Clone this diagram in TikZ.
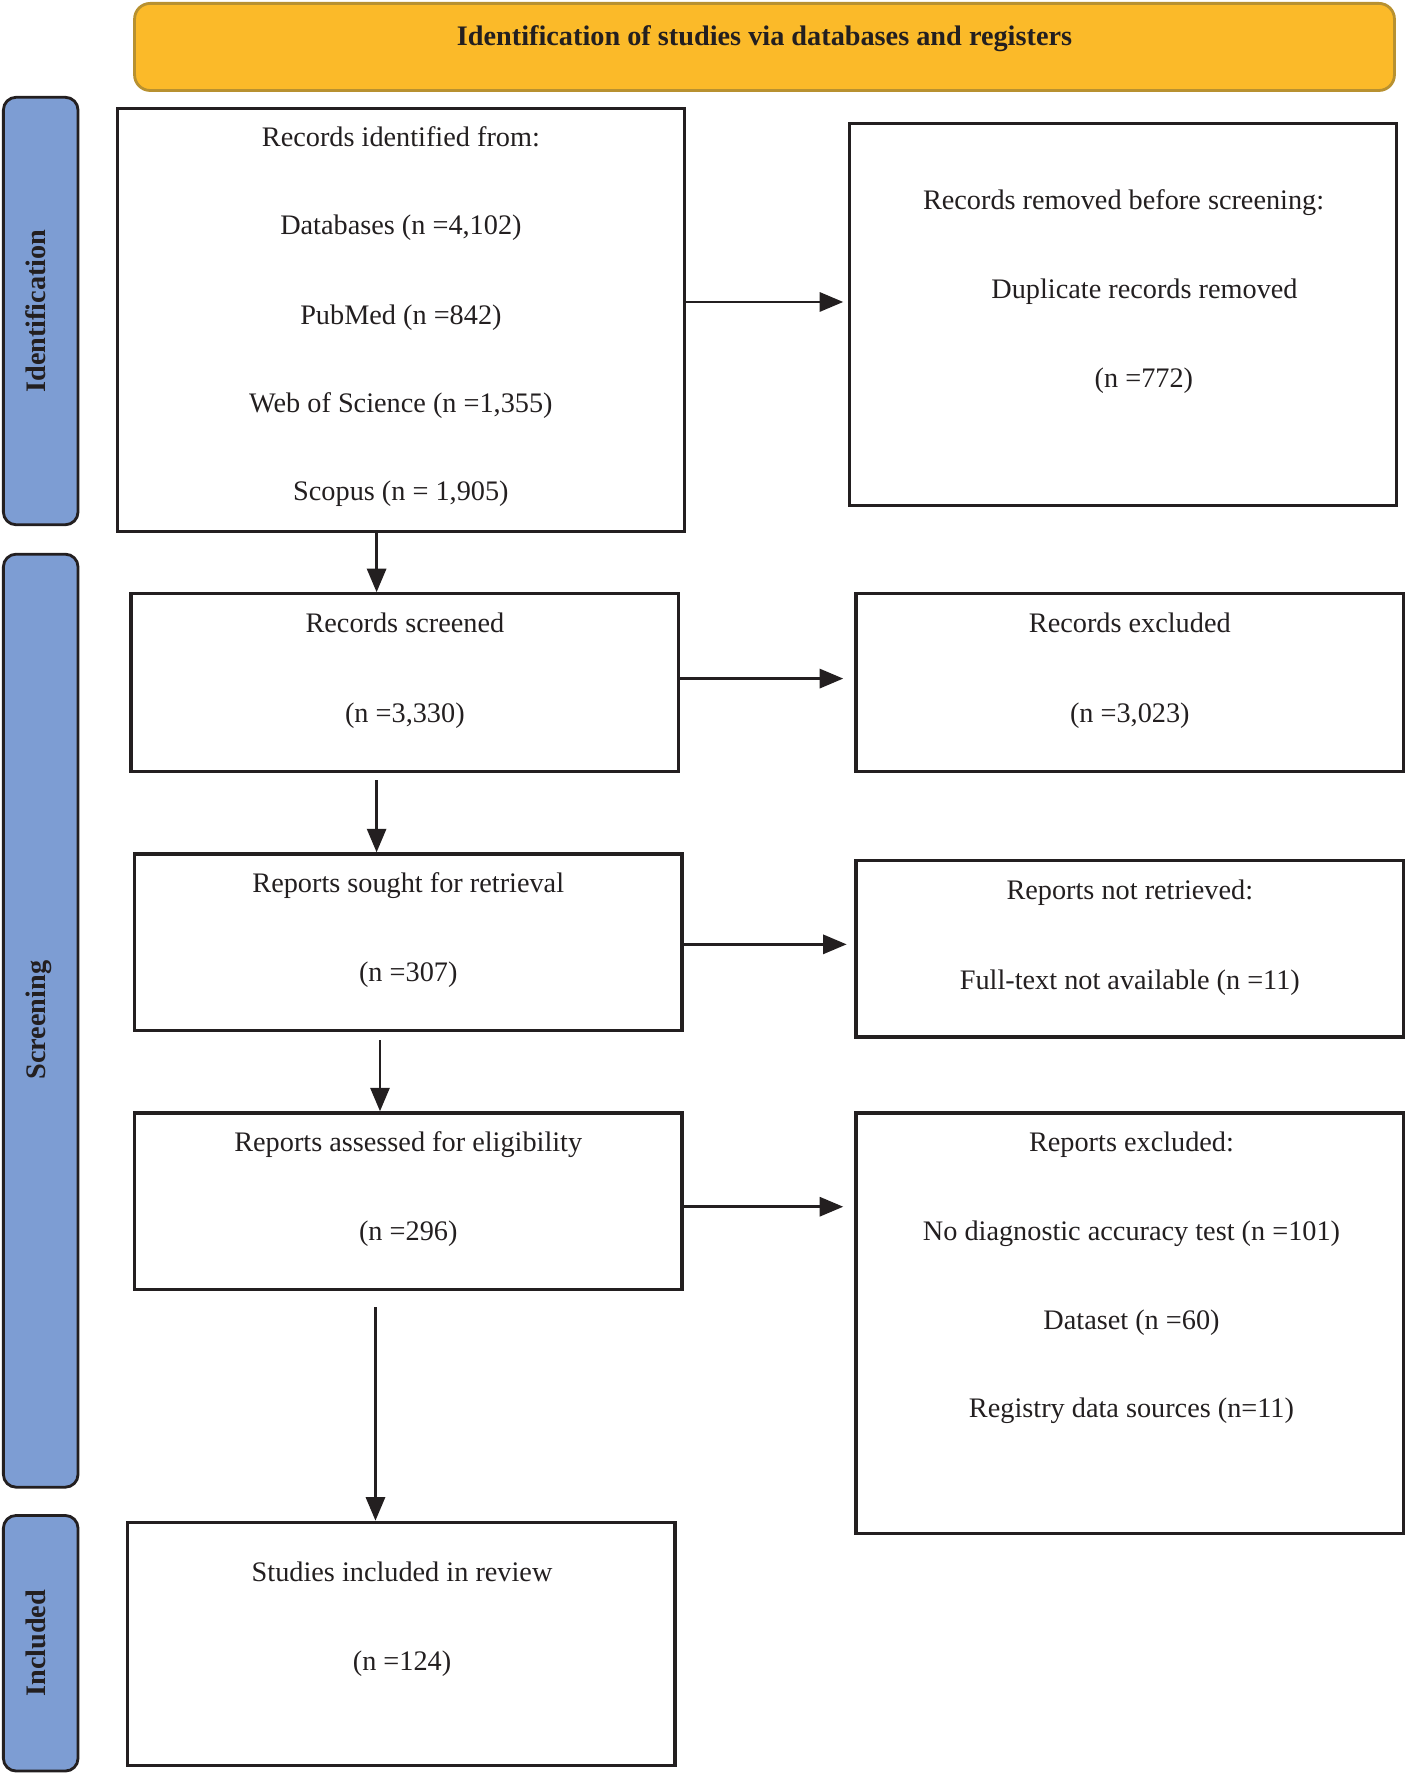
\documentclass[tikz,border=0pt]{standalone}
\usepackage{fontspec}
\setmainfont{Liberation Serif}
\usetikzlibrary{arrows}
\usetikzlibrary{fit}

\definecolor{bannerfill}{RGB}{251,186,41}
\definecolor{bannerline}{RGB}{184,145,48}
\definecolor{phasefill}{RGB}{125,157,211}
\definecolor{inkline}{RGB}{35,31,32}

\tikzset{
  flowbox/.style={draw=inkline, line width=1.2pt, fill=white, inner sep=0pt},
  phasebar/.style={draw=inkline, line width=1pt, fill=phasefill, rounded corners=4.5pt, inner sep=0pt},
  banner/.style={draw=bannerline, line width=1pt, fill=bannerfill, rounded corners=5.5pt, inner sep=0pt},
  entry/.style={anchor=base, inner sep=0pt, text=inkline, font=\fontsize{10}{12}\selectfont},
  phaselabel/.style={anchor=base, rotate=90, inner sep=0pt, text=inkline, font=\fontsize{10}{12}\selectfont\bfseries},
  flowarrow/.style={->, draw=inkline, line width=0.9pt}
}

\begin{document}
\begin{tikzpicture}[line cap=butt,line join=miter,>=triangle 45,x=0.4pt,y=-0.4pt]
\useasboundingbox (0,0) rectangle (1245,1569.5);

% banner
\node[banner, fit={(119,3) (1233,80)}] (banner) {};
\node[entry, font=\fontsize{10}{12}\selectfont\bfseries] (bannertext) at (676,40.5) {Identification of studies via databases and registers};

% phase bars
\node[phasebar, fit={(3,86) (69,464)}] (phaseid) {};
\node[phasebar, fit={(3,490) (69,1315)}] (phasescr) {};
\node[phasebar, fit={(3,1340) (69,1566)}] (phaseinc) {};
\node[phaselabel] (phaseidtext) at (40,275) {Identification};
\node[phaselabel] (phasescrtext) at (40,902) {Screening};
\node[phaselabel] (phaseinctext) at (40,1453) {Included};

% left column
\node[flowbox, fit={(104,96) (605,470)}] (ident) {};
\node[entry] (ident1) at (354.5,129.5) {Records identified from:};
\node[entry] (ident2) at (354.5,207.5) {Databases (n =4,102)};
\node[entry] (ident3) at (354.5,286.5) {PubMed (n =842)};
\node[entry] (ident4) at (354.5,364.5) {Web of Science (n =1,355)};
\node[entry] (ident5) at (354.5,442.5) {Scopus (n = 1,905)};

\node[flowbox, fit={(116,525) (600,682)}] (screen) {};
\node[entry] (screen1) at (358,559.5) {Records screened};
\node[entry] (screen2) at (358,638.5) {(n =3,330)};

\node[flowbox, fit={(119,755) (603,911)}] (sought) {};
\node[entry] (sought1) at (361,789.5) {Reports sought for retrieval};
\node[entry] (sought2) at (361,867.5) {(n =307)};

\node[flowbox, fit={(119,984) (603,1140)}] (assess) {};
\node[entry] (assess1) at (361,1018.5) {Reports assessed for eligibility};
\node[entry] (assess2) at (361,1096.5) {(n =296)};

\node[flowbox, fit={(113,1346) (597,1561)}] (incl) {};
\node[entry] (incl1) at (355.5,1398.5) {Studies included in review};
\node[entry] (incl2) at (355.5,1477.5) {(n =124)};

% right column
\node[flowbox, fit={(751,109) (1235,447)}] (removed) {};
\node[entry] (removed1) at (993.5,185.5) {Records removed before screening:};
\node[entry] (removed2) at (1012,263.5) {Duplicate records removed};
\node[entry] (removed3) at (1011.5,342.5) {(n =772)};

\node[flowbox, fit={(757,525) (1241,682)}] (excl) {};
\node[entry] (excl1) at (999,559.5) {Records excluded};
\node[entry] (excl2) at (999,638.5) {(n =3,023)};

\node[flowbox, fit={(757,761) (1241,917)}] (notret) {};
\node[entry] (notret1) at (999,795.5) {Reports not retrieved:};
\node[entry] (notret2) at (999,874.5) {Full-text not available (n =11)};

\node[flowbox, fit={(757,984) (1241,1356)}] (repexcl) {};
\node[entry] (repexcl1) at (1000.5,1018.5) {Reports excluded:};
\node[entry] (repexcl2) at (1000.5,1096.5) {No diagnostic accuracy test (n =101)};
\node[entry] (repexcl3) at (1000.5,1175.5) {Dataset (n =60)};
\node[entry] (repexcl4) at (1000.5,1253.5) {Registry data sources (n=11)};

% arrow points
\coordinate (down1) at (333,0);
\coordinate (down2) at (333,690);
\coordinate (down3) at (336,920);
\coordinate (down4) at (332,1156);
\coordinate (side1) at (0,267);
\coordinate (side2) at (0,600);
\coordinate (side3) at (0,835);
\coordinate (side4) at (0,1067);

\draw[flowarrow] (ident.south -| down1) -- (screen.north -| down1);
\draw[flowarrow] (down2) -- (sought.north -| down2);
\draw[flowarrow] (down3) -- (assess.north -| down3);
\draw[flowarrow] (down4) -- (incl.north -| down4);

\draw[flowarrow, shorten >=1.6pt] (ident.east |- side1) -- (removed.west |- side1);
\draw[flowarrow, shorten >=4pt] (screen.east |- side2) -- (excl.west |- side2);
\draw[flowarrow, shorten >=2.8pt] (sought.east |- side3) -- (notret.west |- side3);
\draw[flowarrow, shorten >=4pt] (assess.east |- side4) -- (repexcl.west |- side4);
\end{tikzpicture}
\end{document}
